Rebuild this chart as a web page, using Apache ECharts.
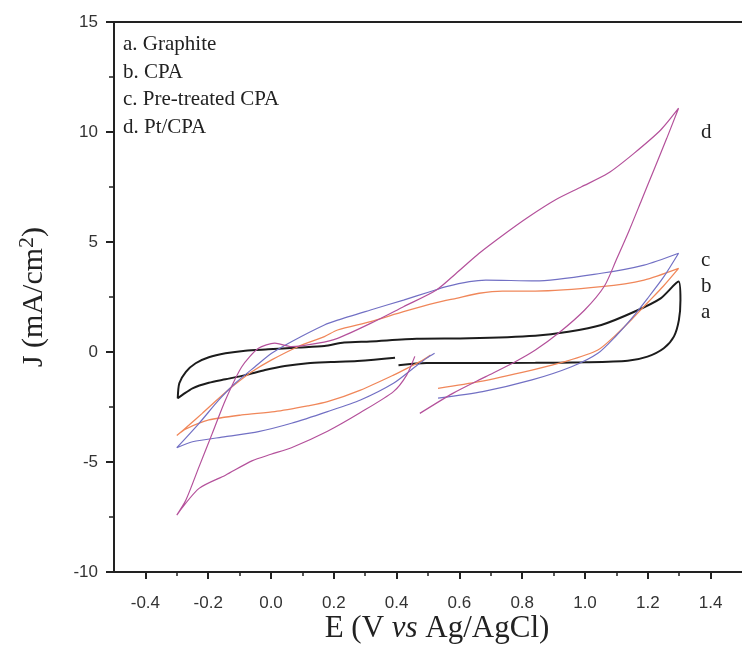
<!DOCTYPE html>
<html>
<head>
<meta charset="utf-8">
<script src="https://cdn.jsdelivr.net/npm/echarts@6/dist/echarts.min.js"></script>
<style>
  html, body { margin: 0; padding: 0; background: #fff; }
  #chart { width: 742px; height: 656px; }
</style>
</head>
<body>
<div id="chart"></div>
<script>
// Cyclic voltammograms: potential E (V vs Ag/AgCl) against current density J (mA/cm2)
const graphite = [
  [0.406,-0.60],[0.495,-0.50],[0.621,-0.50],[0.842,-0.49],[0.999,-0.47],[1.136,-0.40],
  [1.199,-0.21],[1.251,0.17],[1.283,0.70],[1.299,1.45],[1.304,2.36],[1.298,3.20],
  [1.241,2.44],[1.157,1.83],[1.052,1.23],[0.947,0.92],[0.842,0.74],[0.632,0.62],
  [0.464,0.60],[0.316,0.48],[0.233,0.43],[0.170,0.27],[0.086,0.20],[-0.009,0.12],
  [-0.082,0.06],[-0.145,-0.06],[-0.198,-0.24],[-0.240,-0.51],[-0.271,-0.90],
  [-0.292,-1.42],[-0.297,-2.10],
  [-0.282,-1.95],[-0.250,-1.65],[-0.198,-1.40],[-0.145,-1.24],[-0.082,-1.05],
  [-0.019,-0.82],[0.044,-0.64],[0.117,-0.51],[0.191,-0.46],[0.275,-0.41],[0.395,-0.26]
];
const cpa = [
  [0.532,-1.65],[0.663,-1.35],[0.831,-0.82],[0.936,-0.44],[1.041,0.09],[1.100,0.80],
  [1.150,1.50],[1.200,2.25],[1.250,3.00],[1.298,3.80],
  [1.188,3.27],[1.052,2.97],[0.842,2.77],[0.737,2.77],[0.663,2.67],[0.590,2.44],
  [0.527,2.24],[0.422,1.83],[0.317,1.38],[0.212,1.00],[0.170,0.70],[0.086,0.24],
  [0.002,-0.36],[-0.061,-0.90],[-0.124,-1.58],[-0.166,-2.10],[-0.219,-2.79],
  [-0.261,-3.32],[-0.300,-3.80],
  [-0.271,-3.50],[-0.198,-3.09],[-0.093,-2.86],[0.012,-2.71],[0.117,-2.45],
  [0.180,-2.26],[0.285,-1.73],[0.390,-1.05],[0.443,-0.67],[0.485,-0.36],[0.508,-0.14]
];
const pretreatedCpa = [
  [0.532,-2.10],[0.674,-1.80],[0.831,-1.27],[0.957,-0.67],[1.041,-0.06],[1.100,0.75],
  [1.150,1.55],[1.200,2.45],[1.250,3.40],[1.298,4.49],
  [1.188,3.95],[1.052,3.58],[0.842,3.23],[0.684,3.27],[0.632,3.20],[0.558,2.97],
  [0.506,2.74],[0.422,2.36],[0.317,1.91],[0.212,1.45],[0.170,1.23],[0.065,0.47],
  [0.002,-0.06],[-0.051,-0.67],[-0.114,-1.42],[-0.166,-2.18],[-0.229,-3.24],
  [-0.300,-4.35],
  [-0.250,-4.08],[-0.145,-3.85],[-0.040,-3.62],[0.065,-3.24],[0.180,-2.71],
  [0.285,-2.18],[0.390,-1.42],[0.453,-0.74],[0.495,-0.29],[0.521,-0.06]
];
const ptCpa = [
  [0.474,-2.79],[0.579,-1.88],[0.684,-1.12],[0.778,-0.44],[0.842,0.09],[0.915,0.85],
  [0.999,1.91],[1.062,3.00],[1.100,4.20],[1.140,5.50],[1.180,6.90],[1.220,8.30],
  [1.260,9.70],[1.298,11.08],
  [1.241,10.09],[1.156,9.03],[1.073,8.12],[0.989,7.51],[0.905,6.91],[0.821,6.15],
  [0.747,5.40],[0.663,4.49],[0.590,3.58],[0.527,2.82],[0.422,2.06],[0.317,1.30],
  [0.212,0.62],[0.150,0.40],[0.065,0.24],[0.012,0.40],[-0.040,0.17],[-0.093,-0.67],
  [-0.145,-2.18],[-0.187,-3.70],[-0.229,-5.21],[-0.271,-6.73],[-0.300,-7.41],
  [-0.229,-6.20],[-0.145,-5.60],[-0.061,-4.95],[0.000,-4.65],[0.065,-4.35],
  [0.180,-3.60],[0.285,-2.75],[0.390,-1.80],[0.432,-1.05],[0.458,-0.20]
];

const majorTicksE = [-0.4, -0.2, 0.0, 0.2, 0.4, 0.6, 0.8, 1.0, 1.2, 1.4];
const minorTicksE = [-0.3, -0.1, 0.1, 0.3, 0.5, 0.7, 0.9, 1.1, 1.3];
const legendLines = ['a. Graphite', 'b. CPA', 'c. Pre-treated CPA', 'd. Pt/CPA'];
const curveTags = ['a', 'b', 'c', 'd'];

const SERIF = '"Liberation Serif", "DejaVu Serif", serif';
const SANS = '"Liberation Sans", Arial, sans-serif';
const INK = '#222';

const chart = echarts.init(document.getElementById('chart'), null, { renderer: 'canvas' });

function curve(name, data, color, width) {
  return {
    name, type: 'line', data,
    xAxisIndex: 0, yAxisIndex: 0,
    showSymbol: false, smooth: 0.25,
    lineStyle: { color, width },
    silent: true, animation: false
  };
}

// left-hand key and right-hand curve tags, placed in screen space
const keyText = legendLines.map((t, i) => ({
  type: 'text', left: 123, top: 46 + i * 27.7 - 12,
  style: { text: t, font: '21px ' + SERIF, fill: INK }
}));
const tagY = [314, 288, 262, 134];
const tagText = curveTags.map((t, i) => ({
  type: 'text', left: 701, top: tagY[i] - 12,
  style: { text: t, font: '21px ' + SERIF, fill: INK }
}));

chart.setOption({
  backgroundColor: '#fff',
  animation: false,
  grid: { left: 114, top: 22, right: -7, bottom: 84, containLabel: false },
  xAxis: [
    {
      type: 'value', min: -0.5, max: 1.5, position: 'bottom',
      axisLine: { onZero: false, lineStyle: { color: INK, width: 2 } },
      axisTick: { show: true, customValues: majorTicksE, length: 7, inside: false,
                  lineStyle: { color: INK, width: 2 } },
      axisLabel: { show: true, customValues: majorTicksE, margin: 23,
                   formatter: v => v.toFixed(1),
                   fontFamily: SANS, fontSize: 17, color: '#333' },
      splitLine: { show: false },
      name: '{n|E (V }{i|vs}{n| Ag/AgCl)}',
      nameLocation: 'middle', nameGap: 41, nameMoveOverlap: false,
      nameTextStyle: {
        padding: [0, 0, 0, 18],
        rich: {
          n: { fontFamily: SERIF, fontSize: 31, color: INK },
          i: { fontFamily: SERIF, fontSize: 31, fontStyle: 'italic', color: INK }
        }
      }
    },
    {
      type: 'value', min: -0.5, max: 1.5, position: 'bottom',
      axisLine: { show: false, onZero: false },
      axisTick: { show: true, customValues: minorTicksE, length: 4,
                  lineStyle: { color: INK, width: 1.5 } },
      axisLabel: { show: false },
      splitLine: { show: false }
    },
    {
      type: 'value', min: -0.5, max: 1.5, position: 'top',
      axisLine: { show: true, onZero: false, lineStyle: { color: INK, width: 2 } },
      axisTick: { show: false }, axisLabel: { show: false }, splitLine: { show: false }
    }
  ],
  yAxis: [
    {
      type: 'value', min: -10, max: 15, interval: 5, position: 'left',
      axisLine: { onZero: false, lineStyle: { color: INK, width: 2 } },
      axisTick: { show: true, length: 8, lineStyle: { color: INK, width: 2 } },
      minorTick: { show: true, splitNumber: 2, length: 5, lineStyle: { color: INK, width: 1.5 } },
      axisLabel: { margin: 16, fontFamily: SANS, fontSize: 17, color: '#333' },
      splitLine: { show: false },
      name: '{n|J (mA/cm}{s|2}{n|)}',
      nameLocation: 'middle', nameGap: 62,
      nameTextStyle: {
        rich: {
          n: { fontFamily: SERIF, fontSize: 30, color: INK },
          s: { fontFamily: SERIF, fontSize: 22, color: INK, verticalAlign: 'top', padding: [0, 0, 14, 0] }
        }
      }
    }
  ],
  series: [
    curve('Graphite', graphite, '#1c1c1c', 2),
    curve('CPA', cpa, '#f0875a', 1.3),
    curve('Pre-treated CPA', pretreatedCpa, '#7270c4', 1.2),
    curve('Pt/CPA', ptCpa, '#b4519b', 1.2)
  ],
  graphic: keyText.concat(tagText)
});
</script>
</body>
</html>
